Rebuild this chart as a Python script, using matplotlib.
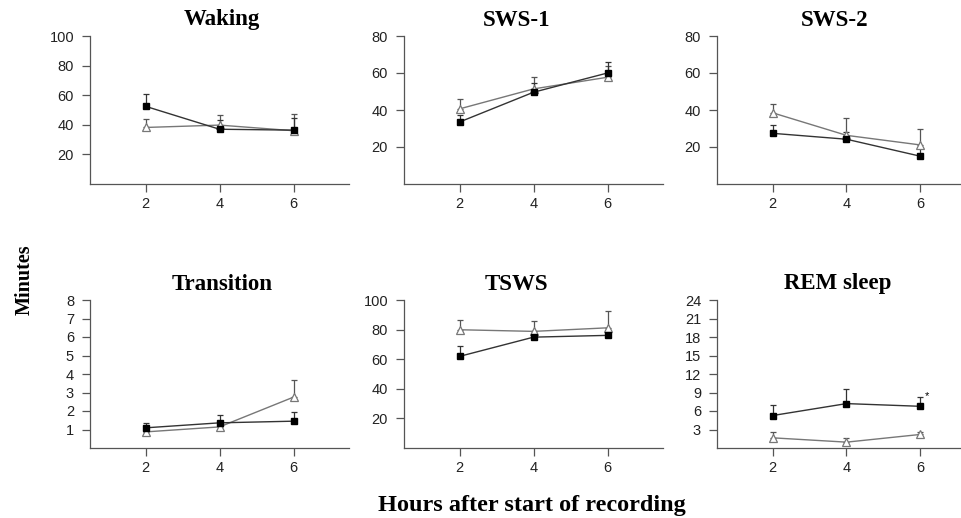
import matplotlib
matplotlib.use("Agg")
import matplotlib.pyplot as plt

hours = [2, 4, 6]

# group means (filled squares / open triangles) and upper SEM
waking_sq = [52.5, 37.0, 36.4]
waking_sq_err = [8.3, 6.0, 8.0]
waking_tri = [38.2, 39.8, 36.0]
waking_tri_err = [6.0, 6.7, 11.0]

sws1_sq = [33.5, 49.6, 60.0]
sws1_sq_err = [4.0, 5.0, 5.7]
sws1_tri = [40.6, 51.4, 57.7]
sws1_tri_err = [5.1, 6.4, 6.0]

sws2_sq = [27.4, 24.2, 15.0]
sws2_sq_err = [4.5, 4.0, 4.3]
sws2_tri = [38.5, 26.3, 21.1]
sws2_tri_err = [5.0, 9.3, 8.8]

trans_sq = [1.09, 1.36, 1.45]
trans_sq_err = [0.27, 0.40, 0.50]
trans_tri = [0.87, 1.14, 2.75]
trans_tri_err = [0.30, 0.30, 0.95]

tsws_sq = [61.9, 74.9, 76.1]
tsws_sq_err = [6.9, 3.0, 3.0]
tsws_tri = [79.9, 78.8, 81.2]
tsws_tri_err = [6.3, 6.7, 11.3]

rem_sq = [5.26, 7.2, 6.76]
rem_sq_err = [1.67, 2.3, 1.5]
rem_tri = [1.65, 0.95, 2.2]
rem_tri_err = [0.97, 0.75, 0.42]

panels = [
    ("Waking", waking_sq, waking_sq_err, waking_tri, waking_tri_err, 100, [20, 40, 60, 80, 100], 0.51),
    ("SWS-1", sws1_sq, sws1_sq_err, sws1_tri, sws1_tri_err, 80, [20, 40, 60, 80], 0.436),
    ("SWS-2", sws2_sq, sws2_sq_err, sws2_tri, sws2_tri_err, 80, [20, 40, 60, 80], 0.456),
    ("Transition", trans_sq, trans_sq_err, trans_tri, trans_tri_err, 8, list(range(1, 9)), 0.51),
    ("TSWS", tsws_sq, tsws_sq_err, tsws_tri, tsws_tri_err, 100, [20, 40, 60, 80, 100], 0.436),
    ("REM sleep", rem_sq, rem_sq_err, rem_tri, rem_tri_err, 24, list(range(3, 25, 3)), 0.467),
]

W, H = 961, 518
fig = plt.figure(figsize=(W / 100, H / 100), dpi=100)

serif = "Liberation Serif"
sans = "Liberation Sans"

lefts = [90, 404, 717]
tops = [36, 300]
aw, ah = 259, 148

for k, (name, sq, sq_err, tri, tri_err, ymax, yticks, tx) in enumerate(panels):
    r, c = divmod(k, 3)
    ax = fig.add_axes([lefts[c] / W, 1 - (tops[r] + ah) / H, aw / W, ah / H])
    ax.set_xlim(0.5, 7.5)
    ax.set_ylim(0, ymax)

    ax.errorbar(hours, tri, yerr=[[0] * 3, tri_err], fmt="none", ecolor="#555555",
                elinewidth=0.9, capsize=2, capthick=0.9, zorder=2)
    ax.errorbar(hours, sq, yerr=[[0] * 3, sq_err], fmt="none", ecolor="#333333",
                elinewidth=0.9, capsize=2, capthick=0.9, zorder=2)
    ax.plot(hours, tri, color="#777777", lw=1.0, marker="^", ms=5.5,
            mfc="white", mec="#777777", mew=0.9, zorder=3)
    ax.plot(hours, sq, color="#333333", lw=1.0, marker="s", ms=5,
            mfc="black", mec="black", zorder=4)

    for s in ["top", "right"]:
        ax.spines[s].set_visible(False)
    for s in ["left", "bottom"]:
        ax.spines[s].set_color("#555555")
        ax.spines[s].set_linewidth(0.9)
    ax.spines["left"].set_bounds(0, ymax)

    ax.set_xticks(hours)
    ax.set_yticks(yticks)
    ax.tick_params(axis="both", length=6, width=0.9, color="#555555",
                   labelsize=10.5, labelcolor="#222222")
    ax.tick_params(axis="y", pad=5.5)
    ax.tick_params(axis="x", pad=3)
    for lab in ax.get_xticklabels() + ax.get_yticklabels():
        lab.set_family(sans)

    ax.text(tx, 1 + 16 / ah, name, transform=ax.transAxes, ha="center", va="center",
            fontsize=16.5, fontweight="bold", family=serif)

    if name == "REM sleep":
        ax.text(6.12, sq[2] + sq_err[2] + 0.1, "*", fontsize=8, family=sans,
                ha="left", va="center")

fig.text(25 / W, 1 - 280 / H, "Minutes", rotation=90, ha="center", va="center",
         fontsize=14.5, fontweight="bold", family=serif)
fig.text(532 / W, 1 - 505 / H, "Hours after start of recording", ha="center", va="center",
         fontsize=17.5, fontweight="bold", family=serif)

fig.savefig("out.png", dpi=100)
